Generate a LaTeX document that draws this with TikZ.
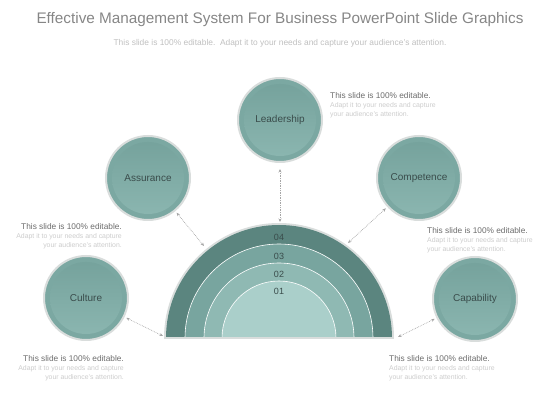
\documentclass[tikz,border=0pt]{standalone}
\usepackage{fontspec}
\setmainfont{Liberation Sans}
\usetikzlibrary{arrows.meta}
\definecolor{tealA}{HTML}{7BA8A2}
\definecolor{tealB}{HTML}{74A19B}
\definecolor{tealC}{HTML}{8CB7B1}
\definecolor{ringA}{HTML}{5B857F}
\definecolor{ringB}{HTML}{78A59F}
\definecolor{ringC}{HTML}{8FB9B3}
\definecolor{ringD}{HTML}{AACFCA}
\definecolor{darktxt}{HTML}{3A4C4B}
\definecolor{rimgray}{HTML}{D9DDDC}
\tikzset{
	bubble/.style={circle,minimum size=84pt,inner sep=0pt,fill=tealA,draw=rimgray,line width=2pt,
		text=darktxt,font=\fontsize{10}{12}\selectfont,
		path picture={\fill[top color=tealB,bottom color=tealC] (path picture bounding box.center) circle (36pt);}},
	link/.style={<->,>={Stealth[length=3.5pt,width=3pt]},gray!70,densely dotted,line width=0.7pt},
	ringlbl/.style={text=darktxt,font=\fontsize{9}{10}\selectfont,inner sep=0pt},
	note/.style={inner sep=0pt,text=gray!40,font=\fontsize{6.9}{9.2}\selectfont}
}
\newcommand{\blurbhead}{\textcolor{gray!85!black}{\fontsize{8.3}{9.2}\selectfont This slide is 100\% editable.}}

\begin{document}
\begin{tikzpicture}[x=1pt,y=1pt]
	\useasboundingbox (0,0) rectangle (560,420);

	\node (title) [text=gray!95,font=\fontsize{15.3}{18}\selectfont] at (280,400) {Effective Management System For Business PowerPoint Slide Graphics};
	\node (sub) [text=gray!50,font=\fontsize{8.4}{9}\selectfont] at (280,377) {This slide is 100\% editable.\ \ Adapt it to your needs and capture your audience's attention.};

	% half disc
	\fill[rimgray] (279,82) ++(-115,0) arc (180:0:115) -- cycle;
	\fill[ringA] (279,82) ++(-113,0) arc (180:0:113) -- cycle;
	\filldraw[ringB,draw=white,line width=0.6pt] (279,82) ++(-94,0) arc (180:0:94) -- cycle;
	\filldraw[ringC,draw=white,line width=0.6pt] (279,82) ++(-75,0) arc (180:0:75) -- cycle;
	\filldraw[ringD,draw=white,line width=0.6pt] (279,82) ++(-57,0) arc (180:0:57) -- cycle;
	\draw[rimgray,line width=1.5pt] (164,82) -- (394,82);

	\node (r4) [ringlbl] at (279,183) {04};
	\node (r3) [ringlbl] at (279,164) {03};
	\node (r2) [ringlbl] at (279,146) {02};
	\node (r1) [ringlbl] at (279,129) {01};

	\node (lead) [bubble] at (280,300) {Leadership};
	\node (assu) [bubble] at (148,242) {Assurance};
	\node (comp) [bubble] at (419,242) {Competence};
	\node (cult) [bubble] at (86,122) {Culture};
	\node (capa) [bubble] at (475,121) {Capability};

	\coordinate (e1) at (280,198);
	\coordinate (e2) at (204,174);
	\coordinate (e3) at (348,177);
	\coordinate (e4) at (163,84);
	\coordinate (e5) at (398,83);

	\draw[link,shorten <=6pt] (lead) -- (e1);
	\draw[link,shorten <=2pt] (assu) -- (e2);
	\draw[link,shorten <=2pt] (comp) -- (e3);
	\draw[link,shorten <=2pt] (cult) -- (e4);
	\draw[link,shorten <=2pt] (capa) -- (e5);

	\node (n1) [note,anchor=north west,align=left] at (330,328) {\blurbhead\\Adapt it to your needs and capture\\your audience's attention.};
	\node (n2) [note,anchor=north east,align=right] at (122,197) {\blurbhead\\Adapt it to your needs and capture\\your audience's attention.};
	\node (n3) [note,anchor=north west,align=left] at (427,193) {\blurbhead\\Adapt it to your needs and capture\\your audience's attention.};
	\node (n4) [note,anchor=north east,align=right] at (124,65) {\blurbhead\\Adapt it to your needs and capture\\your audience's attention.};
	\node (n5) [note,anchor=north west,align=left] at (389,65) {\blurbhead\\Adapt it to your needs and capture\\your audience's attention.};
\end{tikzpicture}
\end{document}
